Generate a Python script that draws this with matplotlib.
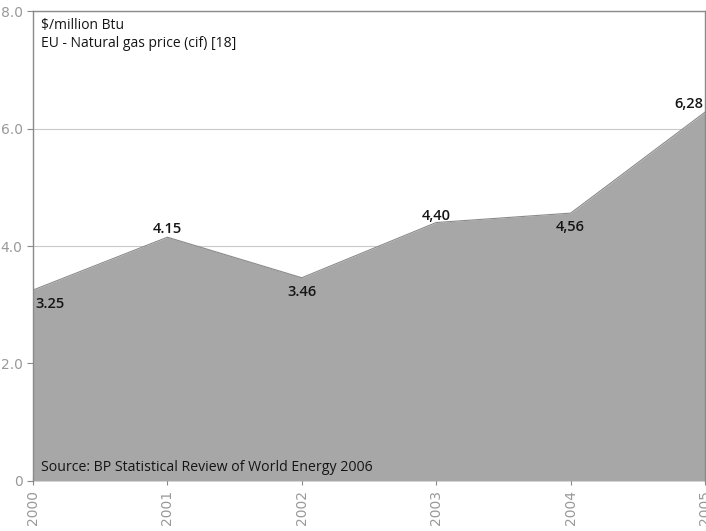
import matplotlib.pyplot as plt

years = [2000, 2001, 2002, 2003, 2004, 2005]
prices = [3.25, 4.15, 3.46, 4.40, 4.56, 6.28]
price_labels = ['3.25', '4.15', '3.46', '4,40', '4,56', '6,28']
# label placement relative to each point: (dx points, dy points, ha, va)
label_offsets = [(2, -5, 'left', 'top'), (0, 1, 'center', 'bottom'),
                 (0, -5, 'center', 'top'), (0, 0, 'center', 'bottom'),
                 (0, -5, 'center', 'top'), (-1, 1, 'right', 'bottom')]
yticks = [0, 2, 4, 6, 8]
ytick_labels = ['0', '2.0', '4.0', '6.0', '8.0']

plt.rcParams['font.family'] = ['Open Sans', 'DejaVu Sans']

fig = plt.figure(figsize=(7.06, 5.31), dpi=100)
ax = fig.add_axes([0.0467, 0.0942, 0.952, 0.885])

ax.fill_between(years, prices, 0, color='#a7a7a7', lw=0, zorder=2)
ax.plot(years, prices, color='#8a8a8a', lw=0.8, zorder=3)

ax.set_xlim(2000, 2005)
ax.set_ylim(0, 8)
ax.set_xticks(years)
ax.set_xticklabels([str(y) for y in years], rotation=90, fontsize=10,
                   family='DejaVu Sans')
ax.set_yticks(yticks)
ax.set_yticklabels(ytick_labels, fontsize=10, family='DejaVu Sans')
ax.tick_params(axis='both', colors='#8a8a8a', labelcolor='#999999',
               length=4, width=0.8)
ax.tick_params(axis='x', direction='inout', length=6)

ax.grid(axis='y', color='#c8c8c8', lw=0.8, zorder=1)

for side in ['left', 'top', 'right']:
    ax.spines[side].set_color('#8a8a8a')
    ax.spines[side].set_linewidth(1.0)
ax.spines['bottom'].set_visible(False)

for x, y, txt, (dx, dy, ha, va) in zip(years, prices, price_labels, label_offsets):
    ax.annotate(txt, (x, y), xytext=(dx, dy), textcoords='offset points',
                ha=ha, va=va, fontsize=10.5, color='#151515',
                fontweight='semibold', zorder=4)

ax.text(0.012, 0.985, '\\$/million Btu\nEU - Natural gas price (cif) [18]',
        transform=ax.transAxes, ha='left', va='top', fontsize=10,
        color='#151515', linespacing=1.25)
ax.text(0.012, 0.012, 'Source: BP Statistical Review of World Energy 2006',
        transform=ax.transAxes, ha='left', va='bottom', fontsize=10.2,
        color='#151515', zorder=4)

fig.savefig('out.png', dpi=100)
